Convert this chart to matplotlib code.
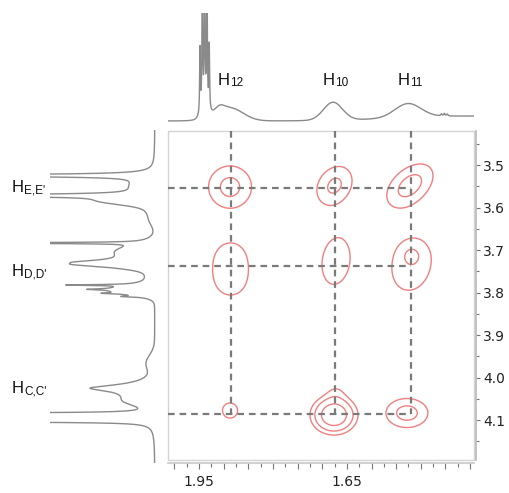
import numpy as np
import matplotlib
matplotlib.use('Agg')
import matplotlib.pyplot as plt
from matplotlib.patches import Rectangle

# ---------------- data ----------------
# assignment columns (F2, horizontal) and rows (F1, vertical), ppm
col_names = ['12', '10', '11']
col_ppm = [1.886, 1.674, 1.520]
row_names = ["E,E'", "D,D'", "C,C'"]
row_ppm = [3.554, 3.738, 4.086]

x_tick_labels = [1.95, 1.65]
y_tick_labels = [3.5, 3.6, 3.7, 3.8, 3.9, 4.0, 4.1]

# 2D cross peaks (gaussian components): centre F2, centre F1, width F2, width F1, amplitude, tilt
xp_f2 = [1.8871, 1.6752, 1.5220, 1.8861, 1.8861, 1.6721, 1.5190, 1.5190, 1.8871, 1.6762, 1.6721, 1.5281]
xp_f1 = [3.5518, 3.5482, 3.5482, 3.7141, 3.7753, 3.7259, 3.7353, 3.7118, 4.0776, 4.0882, 4.0341, 4.0835]
xp_w2 = [0.0331, 0.0279, 0.0343, 0.0325, 0.0325, 0.0292, 0.0406, 0.0152, 0.0211, 0.0249, 0.0162, 0.0314]
xp_w1 = [0.0376, 0.0351, 0.0372, 0.0376, 0.0376, 0.0565, 0.0612, 0.0176, 0.0245, 0.0242, 0.0188, 0.0252]
xp_amp = [2.38, 2.25, 2.52, 1.3, 1.3, 1.6, 1.6, 0.9, 1.3, 6.7, 0.8, 2.5]
xp_rho = [0.0, 0.25, 0.45, 0.0, 0.0, 0.15, 0.15, 0.0, 0.0, 0.0, 0.0, 0.0]
contour_levels = [1, 2, 4]

# top (F2) projection: sharp lines (ppm, height, half-width) and broad humps (ppm, height, sigma)
top_line_ppm = [1.9480, 1.9433, 1.9386, 1.9339, 1.9292, 1.4580, 1.4520, 1.4460]
top_line_h = [64, 150, 160, 150, 64, 2.0, 2.5, 2.0]
top_line_w = [0.0008, 0.0008, 0.0008, 0.0008, 0.0008, 0.0015, 0.0015, 0.0015]
top_hump_ppm = [1.9386, 1.9091, 1.8871, 1.6782, 1.5260, 1.4050]
top_hump_h = [10, 6, 13, 18, 14, 5]
top_hump_s = [0.0075, 0.0101, 0.0264, 0.0193, 0.0264, 0.1420]

# left (F1) projection
left_line_ppm = [3.5247, 3.5718, 3.6835, 3.7282, 3.7341, 3.7824, 3.7925, 3.8019, 3.8094,
                 4.0247, 4.0847, 4.0894, 4.0941, 4.0988, 4.1035]
left_line_h = [300, 300, 350, 25, 25, 62, 24, 20, 18, 42, 300, 300, 300, 300, 300]
left_line_w = [0.0024, 0.0024, 0.0008, 0.0047, 0.0047, 0.0012, 0.0014, 0.0014, 0.0014,
               0.0082, 0.0014, 0.0014, 0.0014, 0.0014, 0.0014]
left_hump_ppm = [3.5494, 3.5847, 3.5965, 3.6282, 3.7047, 3.7341, 3.7635, 3.7941, 3.9659, 4.0341, 4.0576]
left_hump_h = [20, 40, 9, 5, 38, 40, 8, 42, 8, 25, 15]
left_hump_s = [0.0165, 0.0082, 0.0141, 0.0140, 0.0165, 0.0094, 0.0141, 0.0106, 0.0188, 0.0188, 0.0094]

# ---------------- layout ----------------
W, H = 510, 493
fig = plt.figure(figsize=(W / 100, H / 100), dpi=100)


def box(l, t, r, b):
    return [l / W, 1 - b / H, (r - l) / W, (b - t) / H]


XL = (2.013, 1.392)
YL = (4.194, 3.420)

ax = fig.add_axes(box(168, 131, 474, 460))
ax_top = fig.add_axes(box(168, 13, 474, 125))
ax_left = fig.add_axes(box(50, 130, 160, 463))

# ---------------- 2D contours ----------------
gx = np.linspace(XL[1], XL[0], 500)
gy = np.linspace(YL[1], YL[0], 500)
X, Y = np.meshgrid(gx, gy)
Z = np.zeros_like(X)
for cx, cy, sx, sy, a, r in zip(xp_f2, xp_f1, xp_w2, xp_w1, xp_amp, xp_rho):
    u = (X - cx) / sx
    v = (Y - cy) / sy
    q = (u * u - 2 * r * u * v + v * v) / (1 - r * r)
    Z += a * np.exp(-0.5 * q)
ax.contour(X, Y, Z, levels=contour_levels, colors='#f27f7f', linewidths=1.0, zorder=2)

dash = (0, (3.0, 2.2))
for c in col_ppm:
    ax.plot([c, c], [YL[1], row_ppm[-1]], color='#7a7a7a', lw=1.6, ls=dash, zorder=3)
for r in row_ppm:
    ax.plot([XL[0], col_ppm[-1]], [r, r], color='#7a7a7a', lw=1.6, ls=dash, zorder=3)

ax.set_xlim(*XL)
ax.set_ylim(*YL)

xt = np.round(np.arange(1.40, 2.0001, 0.05), 3)
ax.set_xticks(xt)
ax.set_xticklabels([f'{t:.2f}' if any(abs(t - l) < 1e-6 for l in x_tick_labels) else '' for t in xt])
ax.set_xticks(np.round(np.arange(1.425, 2.0, 0.05), 3), minor=True)
ax.yaxis.tick_right()
ax.set_yticks(y_tick_labels)
ax.set_yticklabels([f'{t:.1f}' for t in y_tick_labels])
ax.set_yticks(np.round(np.arange(3.45, 4.16, 0.1), 3), minor=True)

ax.tick_params(axis='both', which='both', direction='out', color='#777777', width=0.8,
               labelsize=10, labelcolor='#222222')
ax.tick_params(axis='x', which='major', length=4, pad=4.5)
ax.tick_params(axis='x', which='minor', length=3)
ax.tick_params(axis='y', which='major', length=3, pad=2)
ax.tick_params(axis='y', which='minor', length=2.5)
for lab in ax.get_xticklabels() + ax.get_yticklabels():
    lab.set_family('DejaVu Sans')

for s in ['left', 'top']:
    ax.spines[s].set_visible(False)
ax.spines['bottom'].set_position(('outward', 2.2))
ax.spines['right'].set_position(('outward', 1.5))
ax.spines['bottom'].set_color('#c8c8c8')
ax.spines['right'].set_color('#b8b8b8')
ax.spines['bottom'].set_linewidth(1.2)
ax.spines['right'].set_linewidth(1.2)
ax.add_patch(Rectangle((0, 0), 1, 1, transform=ax.transAxes, fill=False,
                       ec='#d4d4d4', lw=1.0, clip_on=False, zorder=1))

# ---------------- projections ----------------
def spectrum(grid, lp, lh, lw, hp, hh, hs):
    s = np.zeros_like(grid)
    for p, h, w in zip(lp, lh, lw):
        s += h / (1 + ((grid - p) / w) ** 2)
    for p, h, w in zip(hp, hh, hs):
        s += h * np.exp(-0.5 * ((grid - p) / w) ** 2)
    return s

tx = np.linspace(XL[1], XL[0], 12000)
ts = spectrum(tx, top_line_ppm, top_line_h, top_line_w, top_hump_ppm, top_hump_h, top_hump_s)
ax_top.plot(tx, ts, color='#8a8a8a', lw=1.0)
ax_top.set_xlim(*XL)
ax_top.set_ylim(-4, 108)
ax_top.axis('off')

ly = np.linspace(3.40, 4.21, 14000)
ls_ = spectrum(ly, left_line_ppm, left_line_h, left_line_w, left_hump_ppm, left_hump_h, left_hump_s)
ax_left.plot(ls_, ly, color='#8a8a8a', lw=1.0)
ax_left.set_xlim(105, -5)
ax_left.set_ylim(4.2012, 3.4176)
ax_left.axis('off')

# ---------------- labels ----------------
def hlabel(x, y, sub):
    fig.text(x / W, 1 - y / H, 'H', fontsize=12, family='Liberation Sans',
             ha='left', va='baseline', color='#111111')
    fig.text((x + 12.2) / W, 1 - (y + 1.5) / H, sub, fontsize=8.5, family='Liberation Sans',
             ha='left', va='baseline', color='#111111')

top_label_px = [218, 323, 398]
for xpix, name in zip(top_label_px, col_names):
    hlabel(xpix, 85, name)
left_label_py = [192, 276, 393]
for ypix, name in zip(left_label_py, row_names):
    hlabel(12, ypix, name)

fig.savefig('out.png', dpi=100)
